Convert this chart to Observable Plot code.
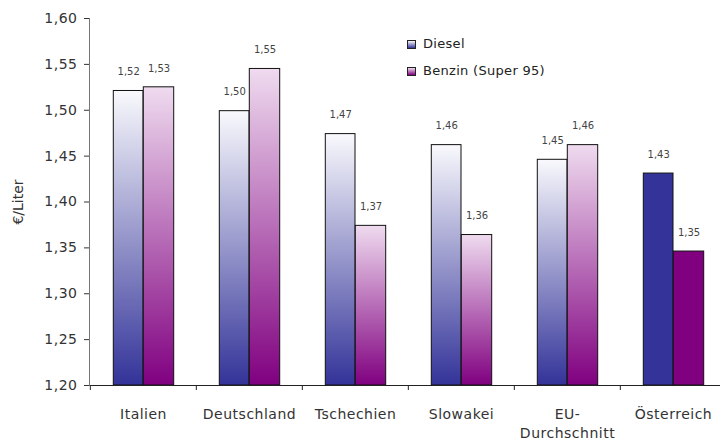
<!DOCTYPE html>
<html><head><meta charset="utf-8">
<script src="https://cdn.jsdelivr.net/npm/d3@7"></script>
<script src="https://cdn.jsdelivr.net/npm/@observablehq/plot@0.6"></script>
<style>
body{margin:0;background:#fff;font-family:"DejaVu Sans",sans-serif}
#wrap{position:relative;width:720px;height:443px;overflow:hidden}
.legend{position:absolute;left:407px;font-size:13px;line-height:14px;color:#222;display:flex;align-items:center;letter-spacing:0.3px}
.sw{width:7px;height:7px;border:1px solid #222;margin-right:7px}
.ax text{letter-spacing:0.5px}
</style></head><body>
<svg width="0" height="0" style="position:absolute">
<defs>
<linearGradient id="gDiesel" x1="0" y1="0" x2="0" y2="1"><stop offset="0" stop-color="#f9f9fd"/><stop offset="1" stop-color="#333399"/></linearGradient>
<linearGradient id="gBenzin" x1="0" y1="0" x2="0" y2="1"><stop offset="0" stop-color="#efdbef"/><stop offset="1" stop-color="#800080"/></linearGradient>
</defs></svg>
<div id="wrap"><div id="chart"></div>
<div class="legend" style="top:37px"><span class="sw" style="background:linear-gradient(#f9f9fd,#333399)"></span>Diesel</div>
<div class="legend" style="top:64px"><span class="sw" style="background:linear-gradient(#efdbef,#800080)"></span>Benzin (Super 95)</div>
</div>
<script>
const countries = ["Italien","Deutschland","Tschechien","Slowakei","EU-Durchschnitt","Österreich"];
const xTickLabels = ["Italien","Deutschland","Tschechien","Slowakei","EU-\nDurchschnitt","Österreich"];
const diesel = [1.521,1.499,1.474,1.462,1.446,1.431];
const benzin = [1.525,1.545,1.374,1.364,1.462,1.346];
const dieselLabels = ["1,52","1,50","1,47","1,46","1,45","1,43"];
const benzinLabels = ["1,53","1,55","1,37","1,36","1,46","1,35"];
const yTicks = [1.20,1.25,1.30,1.35,1.40,1.45,1.50,1.55,1.60];

const rows = [];
countries.forEach((c,i)=>{
  rows.push({country:c, series:"Diesel", value:diesel[i], label:dieselLabels[i]});
  rows.push({country:c, series:"Benzin", value:benzin[i], label:benzinLabels[i]});
});
const tickMap = new Map(countries.map((c,i)=>[c,xTickLabels[i]]));
const xRange = [89, 727];
const step = (xRange[1]-xRange[0])/countries.length;
const yDomain = [1.20, 1.60];
const pxPerUnit = (385-18)/(yDomain[1]-yDomain[0]);
const below = yDomain[0] - 5/pxPerUnit;

const isAT = d => d.country === "Österreich";
const D = rows.filter(d=>d.series==="Diesel");
const B = rows.filter(d=>d.series==="Benzin");

const chart = Plot.plot({
  width:720, height:443,
  marginLeft:89, marginRight:0, marginTop:18, marginBottom:58,
  style:{fontFamily:"DejaVu Sans", fontSize:"14px", color:"#333", background:"transparent"},
  x:{domain:countries, range:xRange, padding:0, label:null},
  y:{domain:yDomain, label:null},
  marks:[
    Plot.barY(D.filter(d=>!isAT(d)), {x:"country", y1:yDomain[0], y2:"value", fill:"url(#gDiesel)", stroke:"#111", strokeWidth:1, insetLeft:23.3, insetRight:53}),
    Plot.barY(B.filter(d=>!isAT(d)), {x:"country", y1:yDomain[0], y2:"value", fill:"url(#gBenzin)", stroke:"#111", strokeWidth:1, insetLeft:53.3, insetRight:22.3}),
    Plot.barY(D.filter(isAT), {x:"country", y1:yDomain[0], y2:"value", fill:"#333399", stroke:"#111", strokeWidth:1, insetLeft:23.3, insetRight:53}),
    Plot.barY(B.filter(isAT), {x:"country", y1:yDomain[0], y2:"value", fill:"#800080", stroke:"#111", strokeWidth:1, insetLeft:53.3, insetRight:22.3}),
    Plot.text(D, {x:"country", y:"value", text:"label", dx:-14.85, dy:-19, fontSize:10, fill:"#444"}),
    Plot.text(B, {x:"country", y:"value", text:"label", dx:15.5, dy:-19, fontSize:10, fill:"#444"}),
    Plot.ruleY([yDomain[0]], {stroke:"#222"}),
    Plot.ruleX(countries, {x:d=>d, dx:-step/2, y1:yDomain[0], y2:below, stroke:"#222"}),
    Plot.frame({anchor:"left", stroke:"#777"}),
    Plot.axisY({ticks:yTicks, tickFormat:d=>d.toFixed(2).replace(".",","), tickSize:5, tickPadding:7, fontSize:14, fill:"#333", stroke:"#333",
      label:"€/Liter", labelAnchor:"center", labelOffset:76, labelArrow:"none", className:"ax"}),
    Plot.axisX({tickSize:0, tickPadding:20, tickFormat:d=>tickMap.get(d), fontSize:14, fill:"#333", lineHeight:1.35, label:null, className:"ax"})
  ]
});
document.getElementById("chart").appendChild(chart);
</script>
</body></html>
